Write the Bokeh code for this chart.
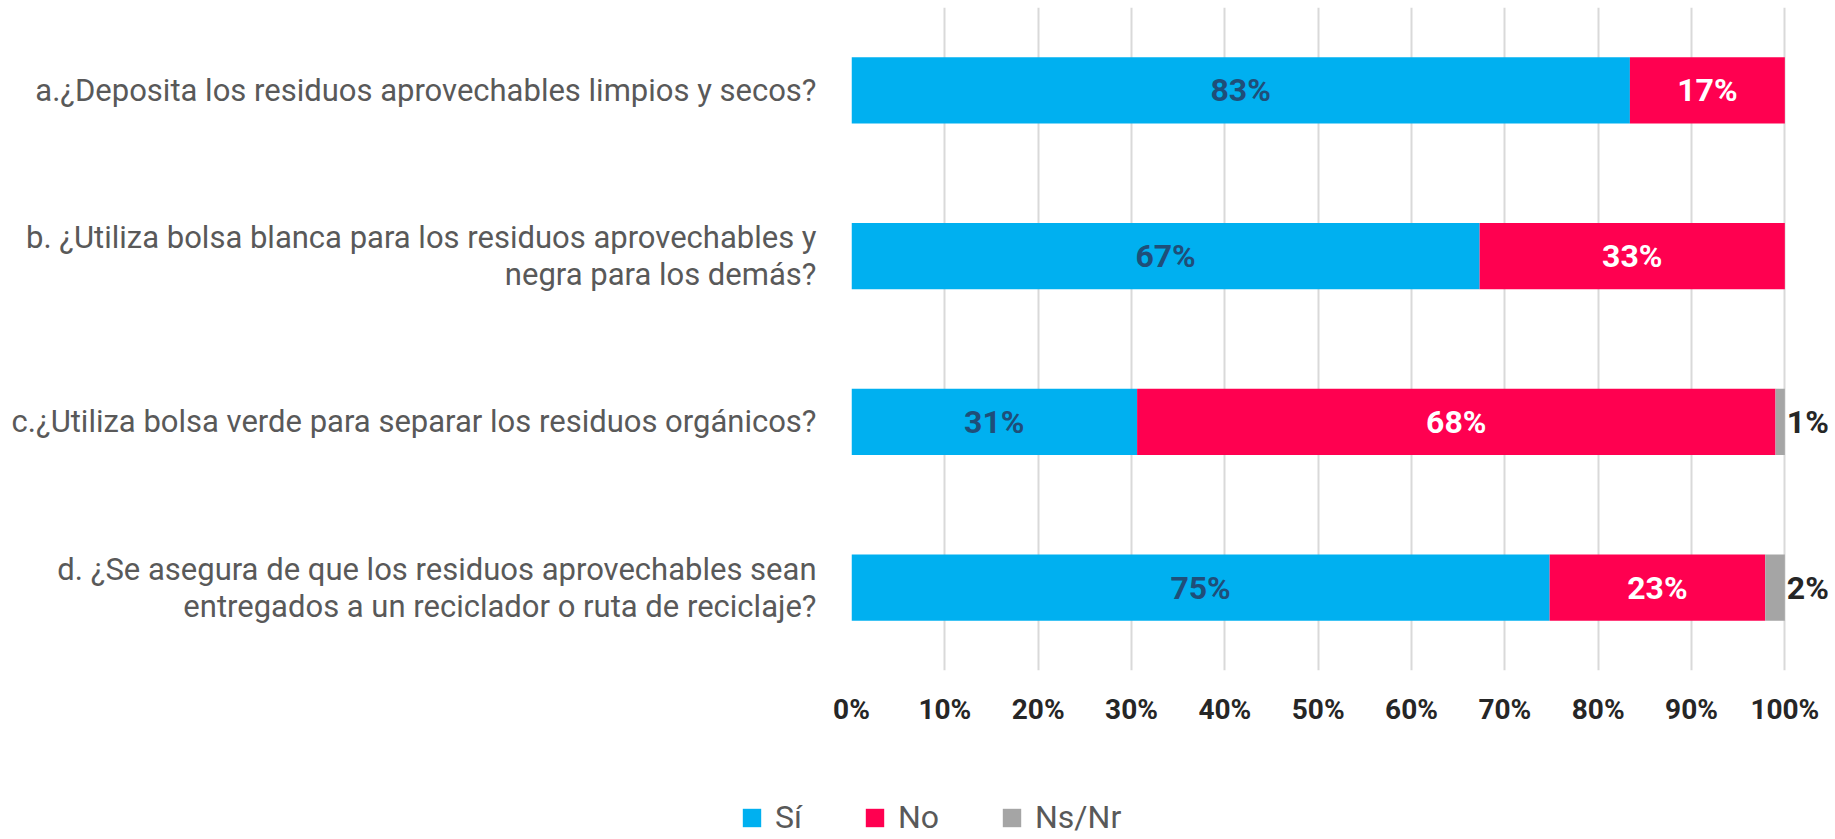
from bokeh.plotting import figure
from bokeh.models import ColumnDataSource, FactorRange, Range1d, FixedTicker, Legend, LegendItem
from bokeh.core.properties import value
from bokeh.embed import file_html
from bokeh.resources import INLINE

# ---------------- data ----------------
questions = [
    "a.¿Deposita los residuos aprovechables limpios y secos?",
    "b. ¿Utiliza bolsa blanca para los residuos aprovechables y\nnegra para los demás?",
    "c.¿Utiliza bolsa verde para separar los residuos orgánicos?",
    "d. ¿Se asegura de que los residuos aprovechables sean\nentregados a un reciclador o ruta de reciclaje?",
]
si = [83.4, 67.3, 30.6, 74.8]
no = [16.6, 32.7, 68.4, 23.1]
ns = [0.0, 0.0, 1.0, 2.1]
series_names = ["Sí", "No", "Ns/Nr"]
x_ticks = [0, 10, 20, 30, 40, 50, 60, 70, 80, 90, 100]
x_tick_labels = ["0%", "10%", "20%", "30%", "40%", "50%", "60%", "70%", "80%", "90%", "100%"]

# ---------------- style ----------------
FONT = "Roboto"
colors = ["#00B0F0", "#FF0050", "#A5A5A5"]
label_colors = ["#1F4E79", "#FFFFFF", "#262626"]
W = 1834

p = figure(
    width=W, height=738,
    y_range=FactorRange(factors=questions[::-1]),
    x_range=Range1d(0, 105),
    output_backend="svg", toolbar_location=None,
    min_border_left=851, min_border_right=3, min_border_top=7, min_border_bottom=68,
)
p.outline_line_color = None
p.background_fill_color = "white"
p.border_fill_color = "white"

src = ColumnDataSource(dict(cat=questions, si=si, no=no, ns=ns))
rs = p.hbar_stack(["si", "no", "ns"], y="cat", height=0.4, fill_color=colors,
                  line_color=None, source=src)

# data labels (inside bars for Sí / No, outside for Ns/Nr)
si_x = [s / 2 for s in si]
no_x = [s + n / 2 for s, n in zip(si, no)]
lab_src_si = ColumnDataSource(dict(x=si_x, y=questions, t=[f"{round(v)}%" for v in si]))
lab_src_no = ColumnDataSource(dict(x=no_x, y=questions, t=[f"{round(v)}%" for v in no]))
ns_q = [q for q, v in zip(questions, ns) if v > 0]
ns_vals = [v for v in ns if v > 0]
ns_x = [s + n + v for s, n, v in zip(si, no, ns) if v > 0]
lab_src_ns = ColumnDataSource(dict(x=ns_x, y=ns_q, t=[f"{round(v)}%" for v in ns_vals]))

for s, c, align, off in [(lab_src_si, label_colors[0], "center", 0),
                         (lab_src_no, label_colors[1], "center", 0),
                         (lab_src_ns, label_colors[2], "left", 2)]:
    p.text(x="x", y="y", text="t", source=s, text_align=align, text_baseline="middle",
           x_offset=off, text_font=value(FONT), text_font_style="bold",
           text_font_size="32px", text_color=c)

# grid
p.ygrid.visible = False
p.xgrid.ticker = FixedTicker(ticks=x_ticks)
p.xgrid.grid_line_color = "#D9D9D9"
p.xgrid.grid_line_width = 2

# x axis
p.xaxis.ticker = FixedTicker(ticks=x_ticks)
p.xaxis.major_label_overrides = {t: l for t, l in zip(x_ticks, x_tick_labels)}
p.xaxis.axis_line_color = None
p.xaxis.major_tick_line_color = None
p.xaxis.minor_tick_line_color = None
p.xaxis.major_tick_out = 0
p.xaxis.major_label_standoff = 22
p.xaxis.major_label_text_font = FONT
p.xaxis.major_label_text_font_style = "bold"
p.xaxis.major_label_text_font_size = "28px"
p.xaxis.major_label_text_color = "#262626"

# y axis
p.yaxis.axis_line_color = None
p.yaxis.major_tick_line_color = None
p.yaxis.minor_tick_line_color = None
p.yaxis.major_tick_out = 0
p.yaxis.major_label_standoff = 35
p.yaxis.major_label_text_font = FONT
p.yaxis.major_label_text_font_size = "31px"
p.yaxis.major_label_text_color = "#595959"
p.yaxis.major_label_text_line_height = 1.0

# legend strip below the chart (separate root, so its frame spans the full width)
pl = figure(width=W, height=100, x_range=Range1d(0, 1), y_range=Range1d(0, 1),
            output_backend="svg", toolbar_location=None,
            x_axis_location=None, y_axis_location=None,
            min_border=0)
pl.outline_line_color = None
pl.grid.visible = False
pl.background_fill_color = "white"
pl.border_fill_color = "white"
leg_src = ColumnDataSource(dict(y=[0.5], l=[5.0], r=[6.0]))  # placed outside the visible x range
dummies = [pl.hbar(y="y", left="l", right="r", height=0.5, source=leg_src,
                   fill_color=c, line_color=None)
           for c in colors]
legend = Legend(
    items=[LegendItem(label=n, renderers=[r]) for n, r in zip(series_names, dummies)],
    location=(740, 2), orientation="horizontal",
    glyph_width=23, glyph_height=23, label_standoff=12, spacing=61,
    padding=0, margin=0, border_line_color=None, background_fill_alpha=0,
    label_text_font=FONT, label_text_font_size="32px", label_text_color="#595959",
)
pl.add_layout(legend)

open("out.html", "w").write(file_html([p, pl], INLINE))
